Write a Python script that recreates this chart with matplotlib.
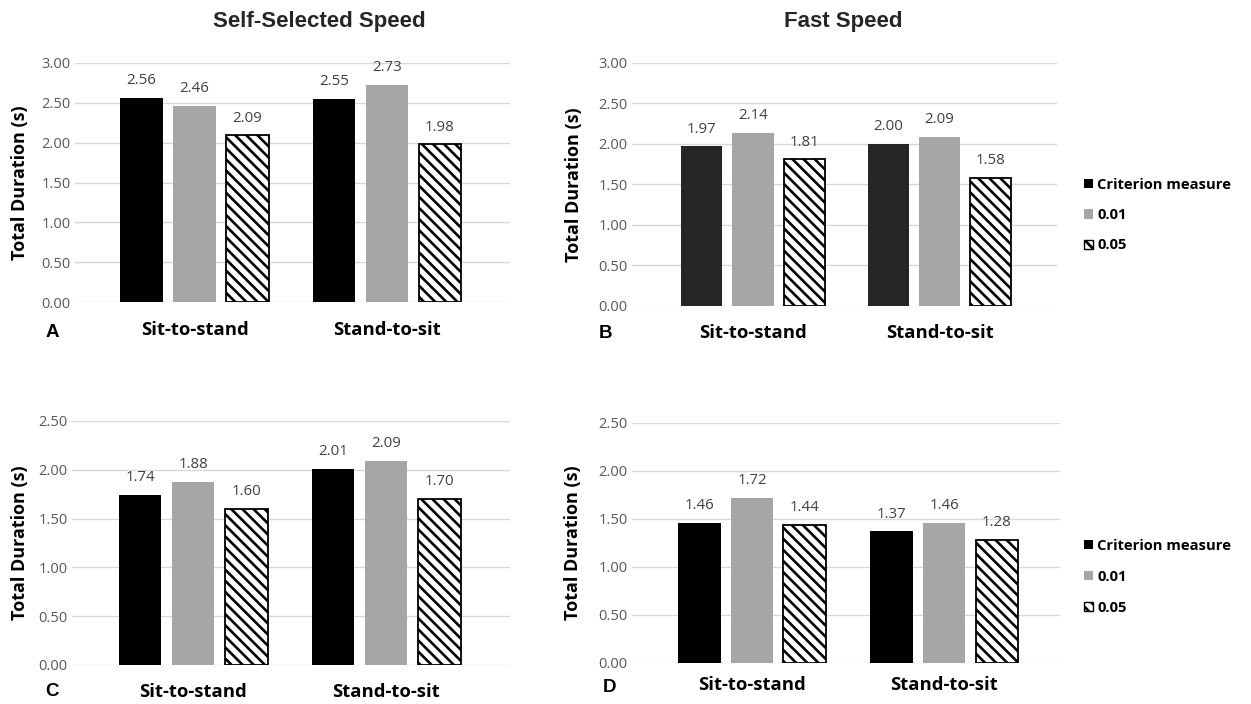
import matplotlib
matplotlib.use("Agg")
import matplotlib.pyplot as plt
from matplotlib.patches import Patch

# data
categories = ["Sit-to-stand", "Stand-to-sit"]
series_names = ["Criterion measure", "0.01", "0.05"]

a_criterion = [2.56, 2.55]
a_p01 = [2.46, 2.73]
a_p05 = [2.09, 1.98]

b_criterion = [1.97, 2.00]
b_p01 = [2.14, 2.09]
b_p05 = [1.81, 1.58]

c_criterion = [1.74, 2.01]
c_p01 = [1.88, 2.09]
c_p05 = [1.60, 1.70]

d_criterion = [1.46, 1.37]
d_p01 = [1.72, 1.46]
d_p05 = [1.44, 1.28]

a_ticks = [0, 0.5, 1.0, 1.5, 2.0, 2.5, 3.0]
c_ticks = [0, 0.5, 1.0, 1.5, 2.0, 2.5]

W, H = 1251, 704
plt.rcParams["hatch.linewidth"] = 1.9
HATCH = "\\" * 3

fig = plt.figure(figsize=(W / 100, H / 100), dpi=100)

def px_axes(x0, x1, ytop, ybot):
    return fig.add_axes([x0 / W, 1 - ybot / H, (x1 - x0) / W, (ybot - ytop) / H])

tick_col = "#595959"
val_col = "#404040"
gray = "#a6a6a6"

def panel(ax, crit, p01, p05, ymax, yticks, xlim, crit_col, lpad):
    x = list(range(len(categories)))
    off = 0.275
    w = 0.222
    cols = [crit, p01, p05]
    bars = []
    bars.append(ax.bar([i - off for i in x], crit, w, color=crit_col, zorder=3))
    bars.append(ax.bar(x, p01, w, color=gray, zorder=3))
    bars.append(ax.bar([i + off for i in x], p05, w, facecolor="white",
                       edgecolor="black", hatch=HATCH, linewidth=1.3, zorder=3))
    for bc, vals in zip(bars, cols):
        for rect, v in zip(bc, vals):
            ax.annotate(f"{v:.2f}", (rect.get_x() + rect.get_width() / 2, v),
                        xytext=(0, 7), textcoords="offset points", ha="center",
                        va="bottom", fontsize=10.8, color=val_col, family="Open Sans")
    ax.set_ylim(0, ymax)
    ax.set_xlim(*xlim)
    ax.set_yticks(yticks)
    ax.set_yticklabels([f"{t:.2f}" for t in yticks], fontsize=10.5, color=tick_col,
                       family="Open Sans")
    ax.set_xticks(x)
    ax.set_xticklabels(categories, fontsize=13.3, fontweight="bold", family="Open Sans")
    ax.tick_params(axis="x", length=0, pad=lpad)
    ax.tick_params(axis="y", length=0, pad=3)
    ax.grid(axis="y", color="#d9d9d9", linewidth=1, zorder=0)
    for s in ax.spines.values():
        s.set_visible(False)
    ax.set_ylabel("Total Duration (s)", fontsize=13, fontweight="bold",
                  family="Open Sans")

axA = px_axes(75, 510, 63, 302)
panel(axA, a_criterion, a_p01, a_p05, 3.0, a_ticks, (-0.621, 1.639), "black", 14)
axB = px_axes(632, 1057, 63, 306)
panel(axB, b_criterion, b_p01, b_p05, 3.0, a_ticks, (-0.649, 1.630), "#262626", 13)
axC = px_axes(72, 510, 421, 665)
panel(axC, c_criterion, c_p01, c_p05, 2.5, c_ticks, (-0.627, 1.642), "black", 13)
axD = px_axes(632, 1060, 423, 663)
panel(axD, d_criterion, d_p01, d_p05, 2.5, c_ticks, (-0.625, 1.604), "black", 9)

# y labels placed like the original (x = right edge of the rotated text)
for ax, xp in [(axA, 29), (axB, 583), (axC, 29), (axD, 582)]:
    pos = ax.get_position()
    ax.yaxis.set_label_coords((xp / W - pos.x0) / pos.width, 0.5)

# panel letters
for letter, lx, ly in [("A", 52, 332), ("B", 605, 333), ("C", 52, 692), ("D", 609, 687)]:
    fig.text(lx / W, 1 - ly / H, letter, fontsize=13.5, fontweight="bold",
             family="Liberation Sans", ha="center", va="center")

# column titles
fig.text(319 / W, 1 - 22 / H, "Self-Selected Speed", fontsize=16, fontweight="bold",
         family="Liberation Sans", ha="center", va="center", color="#262626")
fig.text(843 / W, 1 - 22 / H, "Fast Speed", fontsize=16, fontweight="bold",
         family="Liberation Sans", ha="center", va="center", color="#262626")

handles = [Patch(facecolor="black"), Patch(facecolor=gray),
           Patch(facecolor="white", edgecolor="black", hatch=HATCH, linewidth=1)]
for ytop, sp in [(178, 1.1), (539, 1.15)]:
    fig.legend(handles, series_names, loc="upper left",
               bbox_to_anchor=(1084 / W, 1 - ytop / H), frameon=False,
               prop={"family": "Open Sans", "weight": "bold", "size": 10.6},
               handlelength=0.6, handleheight=0.6, handletextpad=0.3,
               labelspacing=sp, borderpad=0, borderaxespad=0)

fig.savefig("out.png", dpi=100, facecolor="white")
